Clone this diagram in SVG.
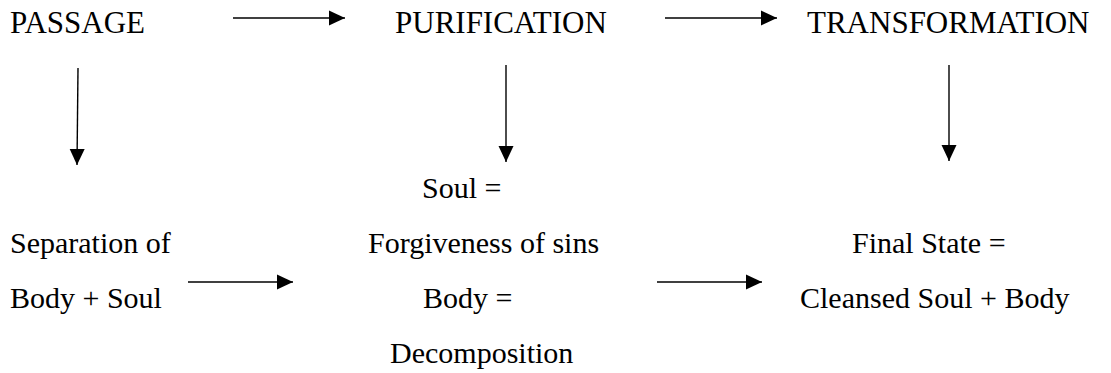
<svg xmlns="http://www.w3.org/2000/svg" width="1111" height="373" viewBox="0 0 1111 373">
<style>
.t{font-family:"Liberation Serif","Times New Roman",serif;fill:#000}
.hd{font-size:31px}
.bd{font-size:30px}
.c{stroke:#000;stroke-width:1.4;fill:none}
</style>
<defs>
<marker id="ah" markerUnits="userSpaceOnUse" markerWidth="17" markerHeight="16" refX="16" refY="8" orient="auto">
<path d="M0,0.5 L16,8 L0,15.5 Z" fill="#000"/>
</marker>
</defs>
<g id="passage"><text class="t hd" font-family="Liberation Serif, serif" x="10" y="33">PASSAGE</text></g>
<g id="purification"><text class="t hd" font-family="Liberation Serif, serif" x="395" y="33">PURIFICATION</text></g>
<g id="transformation"><text class="t hd" font-family="Liberation Serif, serif" x="807" y="33">TRANSFORMATION</text></g>
<g id="separation" font-family="Liberation Serif, serif">
<text class="t bd" x="10" y="253">Separation of</text>
<text class="t bd" x="10" y="308">Body + Soul</text>
</g>
<g id="purification-detail" font-family="Liberation Serif, serif">
<text class="t bd" x="422" y="198">Soul =</text>
<text class="t bd" x="368" y="253">Forgiveness of sins</text>
<text class="t bd" x="423" y="308">Body =</text>
<text class="t bd" x="390" y="363">Decomposition</text>
</g>
<g id="final-state" font-family="Liberation Serif, serif">
<text class="t bd" x="852" y="253">Final State =</text>
<text class="t bd" x="800" y="308">Cleansed Soul + Body</text>
</g>
<g id="connectors">
<line class="c" x1="233" y1="18" x2="345" y2="18" marker-end="url(#ah)"/>
<line class="c" x1="665" y1="18" x2="777" y2="18" marker-end="url(#ah)"/>
<line class="c" x1="78" y1="68" x2="77" y2="165" marker-end="url(#ah)"/>
<line class="c" x1="506" y1="65" x2="506" y2="162" marker-end="url(#ah)"/>
<line class="c" x1="949" y1="65" x2="949" y2="161" marker-end="url(#ah)"/>
<line class="c" x1="188" y1="282" x2="293" y2="282" marker-end="url(#ah)"/>
<line class="c" x1="657" y1="282" x2="762" y2="282" marker-end="url(#ah)"/>
</g>
</svg>
